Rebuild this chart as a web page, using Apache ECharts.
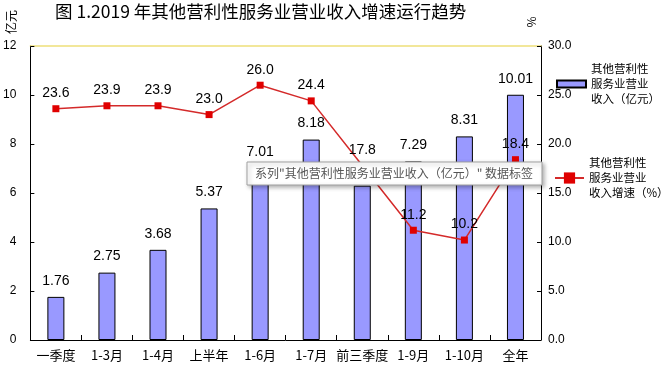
<!DOCTYPE html>
<html>
<head>
<meta charset="utf-8">
<script src="https://cdn.jsdelivr.net/npm/echarts@6/dist/echarts.min.js"></script>
<style>html,body{margin:0;padding:0;background:#fff;}#c{width:665px;height:370px;}</style>
</head>
<body>
<div id="c"></div>
<script>
const categories = ['一季度','1-3月','1-4月','上半年','1-6月','1-7月','前三季度','1-9月','1-10月','全年'];
const revenue = [1.76, 2.75, 3.68, 5.37, 7.01, 8.18, 6.30, 7.29, 8.31, 10.01];
const growth = [23.6, 23.9, 23.9, 23.0, 26.0, 24.4, 17.8, 11.2, 10.2, 18.4];
const leftTicks = {min: 0, max: 12, interval: 2};
const rightTicks = {min: 0, max: 30, interval: 5};
const barName = '其他营利性\n服务业营业\n收入（亿元）';
const lineName = '其他营利性\n服务业营业\n收入增速（%）';
const titleText = '图 1.2019 年其他营利性服务业营业收入增速运行趋势';
const noteText = '系列"其他营利性服务业营业收入（亿元）" 数据标签';

const CJK = '"Noto Sans CJK SC", sans-serif';
const NUM = '"Liberation Sans", sans-serif';

const chart = echarts.init(document.getElementById('c'), null, {renderer: 'canvas'});
chart.setOption({
  animation: false,
  backgroundColor: '#fff',
  title: {
    text: titleText, left: 55, top: 3, padding: 0,
    textStyle: {fontSize: 17.5, fontWeight: 'normal', color: '#000', fontFamily: CJK}
  },
  grid: {left: 29, right: 124, top: 46, bottom: 30},
  legend: [
    {
      data: [{name: barName, icon: 'rect'}], left: 556, top: 46.5, orient: 'vertical',
      itemWidth: 29, itemHeight: 7, selectedMode: false, padding: 0,
      textStyle: {fontSize: 11.5, lineHeight: 15, color: '#000', fontFamily: CJK, padding: [30, 0, 0, 0]}
    },
    {
      data: [{name: lineName}], left: 554, top: 140.5, orient: 'vertical',
      itemWidth: 29, itemHeight: 14, selectedMode: false, padding: 0,
      textStyle: {fontSize: 11.5, lineHeight: 15, color: '#000', fontFamily: CJK, padding: [30, 0, 0, 0]}
    }
  ],
  xAxis: [
    {
      type: 'category', data: categories, boundaryGap: true,
      axisLine: {onZero: false, lineStyle: {color: '#000', width: 1}},
      axisTick: {show: true, inside: true, length: 5, alignWithLabel: false, lineStyle: {color: '#000'}},
      axisLabel: {fontSize: 13, color: '#000', margin: 9, fontFamily: CJK, interval: 0}
    },
    {
      type: 'category', data: categories, position: 'top',
      axisLine: {show: true, onZero: false, lineStyle: {color: '#EEE07A', width: 1.5}},
      axisTick: {show: false}, axisLabel: {show: false}, splitLine: {show: false}
    }
  ],
  yAxis: [
    {
      type: 'value', min: leftTicks.min, max: leftTicks.max, interval: leftTicks.interval,
      axisLine: {show: true, onZero: false, lineStyle: {color: '#000', width: 1}},
      axisTick: {show: true, inside: true, length: 4, lineStyle: {color: '#000'}},
      axisLabel: {fontSize: 12, color: '#000', margin: 14, fontFamily: NUM},
      splitLine: {show: false}
    },
    {
      type: 'value', min: rightTicks.min, max: rightTicks.max, interval: rightTicks.interval, position: 'right',
      axisLine: {show: true, onZero: false, lineStyle: {color: '#000', width: 1}},
      axisTick: {show: true, inside: true, length: 4, lineStyle: {color: '#000'}},
      axisLabel: {fontSize: 12, color: '#000', margin: 7, fontFamily: NUM, formatter: v => v.toFixed(1)},
      splitLine: {show: false}
    }
  ],
  series: [
    {
      name: barName, type: 'bar', data: revenue, barWidth: 17, yAxisIndex: 0, z: 2,
      itemStyle: {color: '#9999FF', borderColor: '#000', borderWidth: 1},
      label: {show: true, position: 'top', distance: 9, fontSize: 14, color: '#000', fontFamily: NUM,
        formatter: p => p.value.toFixed(2)}
    },
    {
      name: lineName, type: 'line', data: growth, yAxisIndex: 1, z: 3,
      symbol: 'rect', symbolSize: 7,
      lineStyle: {color: '#D42A2A', width: 1.5},
      itemStyle: {color: '#E00000'},
      label: {show: true, position: 'top', distance: 5, fontSize: 14, color: '#000', fontFamily: NUM,
        formatter: p => p.value.toFixed(1)}
    }
  ],
  graphic: [
    {
      type: 'text', x: 11, y: 22, rotation: Math.PI / 2,
      style: {text: '亿元', fontSize: 12, fill: '#000', fontFamily: CJK, align: 'center', verticalAlign: 'middle'}
    },
    {
      type: 'text', x: 531, y: 22, rotation: Math.PI / 2,
      style: {text: '%', fontSize: 12, fill: '#000', fontFamily: CJK, align: 'center', verticalAlign: 'middle'}
    },
    {
      type: 'rect', z: 100, shape: {x: 247, y: 162, width: 295, height: 23},
      style: {fill: '#fff', stroke: '#A0A0A0', lineWidth: 1, shadowBlur: 4, shadowOffsetX: 2, shadowOffsetY: 2, shadowColor: 'rgba(0,0,0,0.3)'}
    },
    {
      type: 'text', z: 101, x: 255, y: 173.5,
      style: {text: noteText, fontSize: 12, fill: '#555', fontFamily: CJK, verticalAlign: 'middle'}
    }
  ]
});
</script>
</body>
</html>
